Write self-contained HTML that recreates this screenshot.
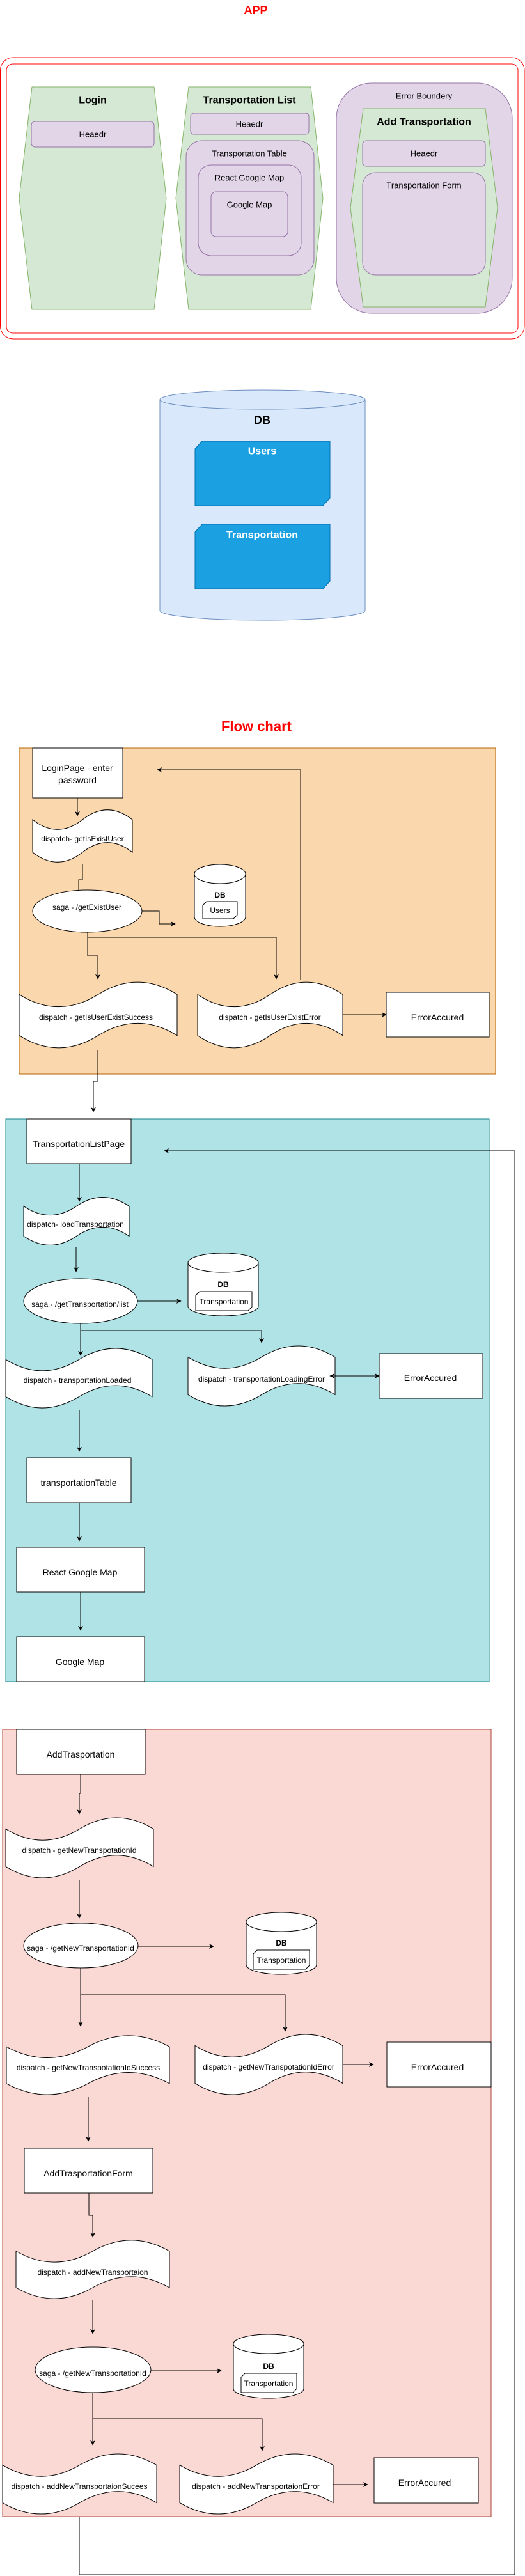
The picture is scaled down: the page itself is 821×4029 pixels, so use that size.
<!DOCTYPE html>
<html><head><meta charset="utf-8"><style>
html,body{margin:0;padding:0;background:#fff}
svg{display:block}
text{font-family:"Liberation Sans",Arial,sans-serif}
</style></head><body>
<svg width="821" height="4029" viewBox="0 0 821 4029" xmlns="http://www.w3.org/2000/svg">
<defs>
<marker id="a" viewBox="0 0 10 10" refX="9" refY="5" markerWidth="8" markerHeight="8" orient="auto-start-reverse" markerUnits="userSpaceOnUse"><path d="M0,0 L10,5 L0,10 L3,5 Z" fill="#000"/></marker>
<symbol id="tape" viewBox="0 0 100 100" preserveAspectRatio="none" overflow="visible"><path d="M0,20 Q25,56 50,20 Q75,-16 100,20 L100,80 Q75,44 50,80 Q25,116 0,80 Z" fill="#fff" stroke="#000" stroke-width="1" vector-effect="non-scaling-stroke"/></symbol>
</defs>

<!-- APP -->
<text x="400" y="16" text-anchor="middle" dominant-baseline="central" font-size="18" font-weight="bold" fill="#ff0000">APP</text>
<rect x="0.5" y="90" width="819.5" height="440" rx="20" fill="none" stroke="#ff0000" stroke-width="1"/>
<rect x="10" y="100" width="800" height="421" rx="10" fill="none" stroke="#ff0000" stroke-width="1"/>

<polygon points="50,136 241,136 260,310 241,484 50,484 30,310" fill="#d5e8d4" stroke="#82b366"/>
<text x="145" y="157" text-anchor="middle" dominant-baseline="central" font-size="16" font-weight="bold">Login</text>
<rect x="49" y="190" width="192" height="40" rx="6" fill="#e1d5e7" stroke="#9673a6"/>
<text x="145" y="210" text-anchor="middle" dominant-baseline="central" font-size="13">Heaedr</text>

<polygon points="295,136 486,136 505,310 486,484 295,484 275,310" fill="#d5e8d4" stroke="#82b366"/>
<text x="390" y="157" text-anchor="middle" dominant-baseline="central" font-size="16" font-weight="bold">Transportation List</text>
<rect x="298" y="177" width="185" height="33" rx="5" fill="#e1d5e7" stroke="#9673a6"/>
<text x="390" y="194" text-anchor="middle" dominant-baseline="central" font-size="13">Heaedr</text>
<rect x="291" y="220" width="200" height="210" rx="25" fill="#e1d5e7" stroke="#9673a6"/>
<text x="390" y="240" text-anchor="middle" dominant-baseline="central" font-size="13">Transportation Table</text>
<rect x="310" y="258" width="161" height="142" rx="20" fill="#e1d5e7" stroke="#9673a6"/>
<text x="390" y="278" text-anchor="middle" dominant-baseline="central" font-size="13">React Google Map</text>
<rect x="330" y="300" width="120" height="70" rx="8" fill="#e1d5e7" stroke="#9673a6"/>
<text x="390" y="320" text-anchor="middle" dominant-baseline="central" font-size="13">Google Map</text>

<rect x="526" y="130" width="275" height="360" rx="55" fill="#e1d5e7" stroke="#9673a6"/>
<text x="663" y="150" text-anchor="middle" dominant-baseline="central" font-size="13">Error Boundery</text>
<polygon points="568,170 759,170 778,325 759,480 568,480 548,325" fill="#d5e8d4" stroke="#82b366"/>
<text x="663" y="191" text-anchor="middle" dominant-baseline="central" font-size="16" font-weight="bold">Add Transportation</text>
<rect x="567" y="220" width="192" height="40" rx="6" fill="#e1d5e7" stroke="#9673a6"/>
<text x="663" y="240" text-anchor="middle" dominant-baseline="central" font-size="13">Heaedr</text>
<rect x="567" y="270" width="192" height="160" rx="20" fill="#e1d5e7" stroke="#9673a6"/>
<text x="663" y="290" text-anchor="middle" dominant-baseline="central" font-size="13">Transportation Form</text>

<!-- DB -->
<path d="M250,625 A160.5,15 0 0 1 571,625 L571,955 A160.5,15 0 0 1 250,955 Z" fill="#dae8fc" stroke="#6c8ebf"/>
<path d="M250,625 A160.5,15 0 0 0 571,625" fill="none" stroke="#6c8ebf"/>
<text x="410" y="657" text-anchor="middle" dominant-baseline="central" font-size="18" font-weight="bold">DB</text>
<polygon points="316,690 516,690 516,779 505,791 305,791 305,702" fill="#1ba1e2" stroke="#006eaf"/>
<text x="410" y="706" text-anchor="middle" dominant-baseline="central" font-size="16" font-weight="bold" fill="#fff">Users</text>
<polygon points="316,820 516,820 516,909 505,921 305,921 305,832" fill="#1ba1e2" stroke="#006eaf"/>
<text x="410" y="837" text-anchor="middle" dominant-baseline="central" font-size="16" font-weight="bold" fill="#fff">Transportation</text>

<!-- Flow chart -->
<text x="401" y="1136" text-anchor="middle" dominant-baseline="central" font-size="22" font-weight="bold" fill="#ff0000">Flow chart</text>

<!-- orange -->
<rect x="30" y="1170" width="745" height="510" fill="#fad7ac" stroke="#b46504"/>
<rect x="51" y="1170" width="141" height="78" fill="#fff" stroke="#000"/>
<text x="121" y="1201" text-anchor="middle" dominant-baseline="central" font-size="14">LoginPage - enter</text>
<text x="121" y="1220" text-anchor="middle" dominant-baseline="central" font-size="14">password</text>
<use href="#tape" x="51" y="1265" width="156" height="85"/>
<text x="129" y="1312" text-anchor="middle" dominant-baseline="central" font-size="12">dispatch- getIsExistUser</text>
<ellipse cx="136.5" cy="1425" rx="85.5" ry="33" fill="#fff" stroke="#000"/>
<text x="136" y="1419" text-anchor="middle" dominant-baseline="central" font-size="12">saga - /getExistUser</text>
<path d="M304,1367 A40,15 0 0 1 384,1367 L384,1434 A40,15 0 0 1 304,1434 Z" fill="#fff" stroke="#000"/>
<path d="M304,1367 A40,15 0 0 0 384,1367" fill="none" stroke="#000"/>
<text x="344" y="1400" text-anchor="middle" dominant-baseline="central" font-size="12" font-weight="bold">DB</text>
<polygon points="323,1410 371,1410 371,1431 365,1437 317,1437 317,1416" fill="#fff" stroke="#000"/>
<text x="344" y="1424" text-anchor="middle" dominant-baseline="central" font-size="12">Users</text>
<use href="#tape" x="30" y="1534" width="247" height="107"/>
<text x="150" y="1591" text-anchor="middle" dominant-baseline="central" font-size="12">dispatch - getIsUserExistSuccess</text>
<use href="#tape" x="309" y="1534" width="227" height="107"/>
<text x="422" y="1591" text-anchor="middle" dominant-baseline="central" font-size="12">dispatch - getIsUserExistError</text>
<rect x="604" y="1552" width="161" height="70" fill="#fff" stroke="#000"/>
<text x="684" y="1591" text-anchor="middle" dominant-baseline="central" font-size="14">ErrorAccured</text>

<g fill="none" stroke="#000" stroke-width="1">
<polyline points="121,1248 121,1276" marker-end="url(#a)"/>
<polyline points="129,1352 129,1376 123,1376 123,1392"/>
<polyline points="222,1425 249,1425 249,1445 274,1445" marker-end="url(#a)"/>
<polyline points="137,1458 137,1495 153,1495 153,1531" marker-end="url(#a)"/>
<polyline points="137,1466 432,1466 432,1531" marker-end="url(#a)"/>
<polyline points="536,1587 604,1587" marker-end="url(#a)"/>
<polyline points="470,1532 470,1204 246,1204" marker-end="url(#a)"/>
<polyline points="153,1643 153,1691 146,1691 146,1739" marker-end="url(#a)"/>
</g>

<!-- cyan -->
<rect x="9" y="1750" width="756" height="880" fill="#b0e3e6" stroke="#0e8088"/>
<rect x="42" y="1750" width="163" height="70" fill="#fff" stroke="#000"/>
<text x="123" y="1789" text-anchor="middle" dominant-baseline="central" font-size="14">TransportationListPage</text>
<use href="#tape" x="37" y="1871" width="165" height="78"/>
<text x="118" y="1915" text-anchor="middle" dominant-baseline="central" font-size="12">dispatch- loadTransportation</text>
<ellipse cx="126" cy="2035" rx="89" ry="35" fill="#fff" stroke="#000"/>
<text x="125" y="2040" text-anchor="middle" dominant-baseline="central" font-size="12">saga - /getTransportation/list</text>
<path d="M294,1975 A55,15 0 0 1 404,1975 L404,2043 A55,15 0 0 1 294,2043 Z" fill="#fff" stroke="#000"/>
<path d="M294,1975 A55,15 0 0 0 404,1975" fill="none" stroke="#000"/>
<text x="349" y="2009" text-anchor="middle" dominant-baseline="central" font-size="12" font-weight="bold">DB</text>
<polygon points="312,2020 394,2020 394,2044 388,2050 306,2050 306,2026" fill="#fff" stroke="#000"/>
<text x="350" y="2036" text-anchor="middle" dominant-baseline="central" font-size="12">Transportation</text>
<use href="#tape" x="9" y="2107" width="229" height="97"/>
<text x="121" y="2159" text-anchor="middle" dominant-baseline="central" font-size="12">dispatch - transportationLoaded</text>
<use href="#tape" x="294" y="2103" width="230" height="98"/>
<text x="409" y="2157" text-anchor="middle" dominant-baseline="central" font-size="12">dispatch - transportationLoadingError</text>
<rect x="593" y="2117" width="162" height="70" fill="#fff" stroke="#000"/>
<text x="673" y="2155" text-anchor="middle" dominant-baseline="central" font-size="14">ErrorAccured</text>
<rect x="42" y="2280" width="163" height="70" fill="#fff" stroke="#000"/>
<text x="123" y="2319" text-anchor="middle" dominant-baseline="central" font-size="14">transportationTable</text>
<rect x="26" y="2420" width="200" height="70" fill="#fff" stroke="#000"/>
<text x="125" y="2459" text-anchor="middle" dominant-baseline="central" font-size="14">React Google Map</text>
<rect x="26" y="2560" width="200" height="70" fill="#fff" stroke="#000"/>
<text x="125" y="2599" text-anchor="middle" dominant-baseline="central" font-size="14">Google Map</text>

<g fill="none" stroke="#000" stroke-width="1">
<polyline points="124,1820 124,1879" marker-end="url(#a)"/>
<polyline points="119,1950 119,1989" marker-end="url(#a)"/>
<polyline points="215,2035 283,2035" marker-end="url(#a)"/>
<polyline points="126,2070 126,2120" marker-end="url(#a)"/>
<polyline points="126,2081 409,2081 409,2100" marker-end="url(#a)"/>
<polyline points="516,2152 593,2152" marker-start="url(#a)" marker-end="url(#a)"/>
<polyline points="124,2206 124,2270" marker-end="url(#a)"/>
<polyline points="124,2350 124,2410" marker-end="url(#a)"/>
<polyline points="126,2490 126,2550" marker-end="url(#a)"/>
</g>

<!-- pink -->
<rect x="4" y="2705" width="764" height="1231" fill="#fad9d5" stroke="#ae4132"/>
<rect x="26" y="2705" width="201" height="70" fill="#fff" stroke="#000"/>
<text x="126" y="2744" text-anchor="middle" dominant-baseline="central" font-size="14">AddTrasportation</text>
<use href="#tape" x="9" y="2841" width="231" height="98"/>
<text x="124" y="2894" text-anchor="middle" dominant-baseline="central" font-size="12">dispatch - getNewTranspotationId</text>
<ellipse cx="126.5" cy="3043" rx="89.5" ry="35" fill="#fff" stroke="#000"/>
<text x="126" y="3047" text-anchor="middle" dominant-baseline="central" font-size="12">saga - /getNewTransportationId</text>
<path d="M385,3006 A55,15 0 0 1 495,3006 L495,3073 A55,15 0 0 1 385,3073 Z" fill="#fff" stroke="#000"/>
<path d="M385,3006 A55,15 0 0 0 495,3006" fill="none" stroke="#000"/>
<text x="440" y="3039" text-anchor="middle" dominant-baseline="central" font-size="12" font-weight="bold">DB</text>
<polygon points="402,3050 484,3050 484,3074 478,3080 396,3080 396,3056" fill="#fff" stroke="#000"/>
<text x="440" y="3066" text-anchor="middle" dominant-baseline="central" font-size="12">Transportation</text>
<use href="#tape" x="10" y="3182" width="255" height="96"/>
<text x="138" y="3234" text-anchor="middle" dominant-baseline="central" font-size="12">dispatch - getNewTranspotationIdSuccess</text>
<use href="#tape" x="305" y="3180" width="231" height="98"/>
<text x="420" y="3233" text-anchor="middle" dominant-baseline="central" font-size="12">dispatch - getNewTranspotationIdError</text>
<rect x="605" y="3194" width="163" height="70" fill="#fff" stroke="#000"/>
<text x="684" y="3233" text-anchor="middle" dominant-baseline="central" font-size="14">ErrorAccured</text>
<rect x="38" y="3360" width="201" height="70" fill="#fff" stroke="#000"/>
<text x="138" y="3399" text-anchor="middle" dominant-baseline="central" font-size="14">AddTrasportationForm</text>
<use href="#tape" x="25" y="3502" width="240" height="95"/>
<text x="145" y="3554" text-anchor="middle" dominant-baseline="central" font-size="12">dispatch - addNewTransportaion</text>
<ellipse cx="145.5" cy="3706.5" rx="90.5" ry="35.5" fill="#fff" stroke="#000"/>
<text x="145" y="3712" text-anchor="middle" dominant-baseline="central" font-size="12">saga - /getNewTransportationId</text>
<path d="M365,3666 A55,15 0 0 1 475,3666 L475,3736 A55,15 0 0 1 365,3736 Z" fill="#fff" stroke="#000"/>
<path d="M365,3666 A55,15 0 0 0 475,3666" fill="none" stroke="#000"/>
<text x="420" y="3701" text-anchor="middle" dominant-baseline="central" font-size="12" font-weight="bold">DB</text>
<polygon points="383,3712 464,3712 464,3736 458,3742 377,3742 377,3718" fill="#fff" stroke="#000"/>
<text x="420" y="3728" text-anchor="middle" dominant-baseline="central" font-size="12">Transportation</text>
<use href="#tape" x="4" y="3836" width="241" height="98"/>
<text x="124" y="3889" text-anchor="middle" dominant-baseline="central" font-size="12">dispatch - addNewTransportaionSucees</text>
<use href="#tape" x="281" y="3836" width="240" height="98"/>
<text x="400" y="3889" text-anchor="middle" dominant-baseline="central" font-size="12">dispatch - addNewTransportaionError</text>
<rect x="585" y="3844" width="163" height="71" fill="#fff" stroke="#000"/>
<text x="664" y="3883" text-anchor="middle" dominant-baseline="central" font-size="14">ErrorAccured</text>

<g fill="none" stroke="#000" stroke-width="1">
<polyline points="126,2775 126,2805 124,2805 124,2837" marker-end="url(#a)"/>
<polyline points="124,2941 124,3000" marker-end="url(#a)"/>
<polyline points="216,3044 334,3044" marker-end="url(#a)"/>
<polyline points="126,3078 126,3169" marker-end="url(#a)"/>
<polyline points="126,3120 446,3120 446,3177" marker-end="url(#a)"/>
<polyline points="536,3229 584,3229" marker-end="url(#a)"/>
<polyline points="138,3280 138,3349" marker-end="url(#a)"/>
<polyline points="139,3430 139,3465 145,3465 145,3499" marker-end="url(#a)"/>
<polyline points="145,3597 145,3650" marker-end="url(#a)"/>
<polyline points="236,3708 346,3708" marker-end="url(#a)"/>
<polyline points="145,3742 145,3824" marker-end="url(#a)"/>
<polyline points="145,3783 410,3783 410,3833" marker-end="url(#a)"/>
<polyline points="521,3886 575,3886" marker-end="url(#a)"/>
<polyline points="124,3936 124,4027 805,4027 805,1800 257,1800" marker-end="url(#a)"/>
</g>
</svg>
</body></html>
